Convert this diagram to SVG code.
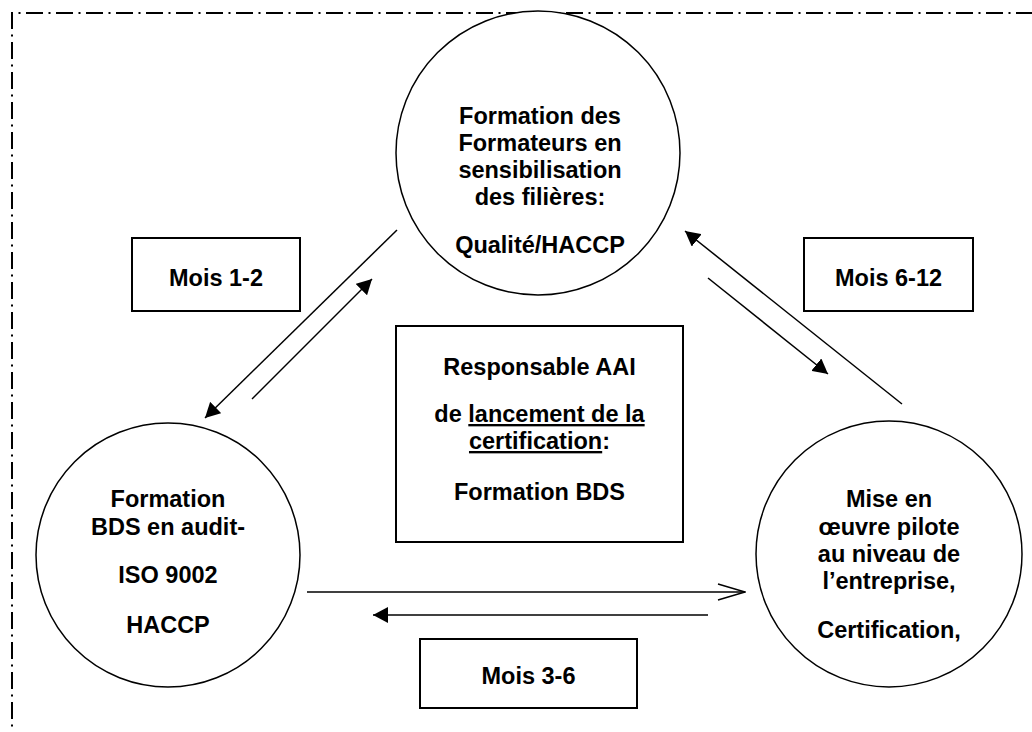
<svg xmlns="http://www.w3.org/2000/svg" width="1032" height="732" viewBox="0 0 1032 732">
<defs>
<style>
.t{font-family:"Liberation Sans",Arial,sans-serif;font-weight:bold;font-size:23.5px;fill:#000;text-anchor:middle}
.node{fill:#fff;stroke:#000;stroke-width:1.5}
.box{fill:#fff;stroke:#000;stroke-width:2}
.c{fill:none;stroke:#000;stroke-width:1.5}
.u{text-decoration:underline}
</style>
<marker id="fill" markerUnits="userSpaceOnUse" viewBox="0 0 15 16" markerWidth="15" markerHeight="16" refX="15" refY="8" orient="auto">
<path d="M0,0 L15,8 L0,16 z" fill="#000"/>
</marker>
<marker id="open" markerUnits="userSpaceOnUse" viewBox="-1 -1 29 18" markerWidth="29" markerHeight="18" refX="27" refY="8" orient="auto">
<path d="M0,0 L27,8 L0,16" fill="none" stroke="#000" stroke-width="1.5"/>
</marker>
</defs>
<rect width="1032" height="732" fill="#fff"/>
<path d="M12,740 V13 H1040" fill="none" stroke="#000" stroke-width="2" stroke-dasharray="17 5.5 2 5.5" stroke-dashoffset="9"/>
<g id="connectors">
<line class="c" x1="397" y1="230" x2="205" y2="418" marker-end="url(#fill)"/>
<line class="c" x1="252" y1="399" x2="372" y2="279" marker-end="url(#fill)"/>
<line class="c" x1="902" y1="404" x2="685" y2="231" marker-end="url(#fill)"/>
<line class="c" x1="708" y1="278" x2="828" y2="374" marker-end="url(#fill)"/>
<line class="c" x1="307" y1="592" x2="745" y2="592" marker-end="url(#open)"/>
<line class="c" x1="708" y1="615" x2="373" y2="615" marker-end="url(#fill)"/>
</g>
<g id="n-formateurs">
<circle class="node" cx="538" cy="153" r="142"/>
<text class="t" x="540" y="124">Formation des</text>
<text class="t" x="540" y="151">Formateurs en</text>
<text class="t" x="540" y="178">sensibilisation</text>
<text class="t" x="540" y="205">des filières:</text>
<text class="t" x="540" y="253">Qualité/HACCP</text>
</g>
<g id="n-bds">
<circle class="node" cx="168" cy="555" r="132"/>
<text class="t" x="168" y="507">Formation</text>
<text class="t" x="168" y="535">BDS en audit-</text>
<text class="t" x="168" y="583">ISO 9002</text>
<text class="t" x="168" y="633">HACCP</text>
</g>
<g id="n-pilote">
<circle class="node" cx="889" cy="554" r="133"/>
<text class="t" x="889" y="507">Mise en</text>
<text class="t" x="889" y="535">œuvre pilote</text>
<text class="t" x="889" y="562">au niveau de</text>
<text class="t" x="889" y="589">l’entreprise,</text>
<text class="t" x="889" y="638">Certification,</text>
</g>
<g id="n-responsable">
<rect class="box" x="396" y="326" width="287" height="216"/>
<text class="t" x="539.5" y="375">Responsable AAI</text>
<text class="t" x="539.5" y="422">de <tspan class="u">lancement de la</tspan></text>
<text class="t" x="539.5" y="449"><tspan class="u">certification</tspan>:</text>
<text class="t" x="539.5" y="500">Formation BDS</text>
</g>
<g id="n-mois12">
<rect class="box" x="132" y="238" width="168" height="73"/>
<text class="t" x="216" y="286">Mois 1-2</text>
</g>
<g id="n-mois612">
<rect class="box" x="804" y="238" width="169" height="73"/>
<text class="t" x="888.5" y="286">Mois 6-12</text>
</g>
<g id="n-mois36">
<rect class="box" x="420" y="639" width="217" height="69"/>
<text class="t" x="528.5" y="684">Mois 3-6</text>
</g>
</svg>
